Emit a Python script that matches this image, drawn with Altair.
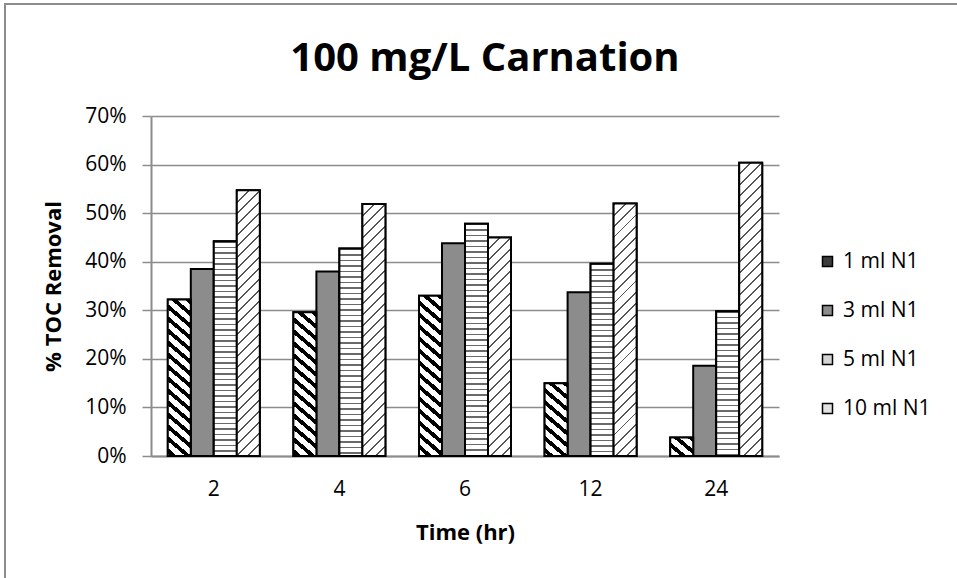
import altair as alt
import pandas as pd

# ---- data ----
times = ["2", "4", "6", "12", "24"]
series = ["1 ml N1", "3 ml N1", "5 ml N1", "10 ml N1"]
s1 = [0.322, 0.296, 0.330, 0.150, 0.038]
s2 = [0.385, 0.380, 0.438, 0.337, 0.186]
s3 = [0.442, 0.427, 0.478, 0.396, 0.298]
s4 = [0.547, 0.519, 0.450, 0.520, 0.604]
y_ticks = [0, 0.1, 0.2, 0.3, 0.4, 0.5, 0.6, 0.7]

rows = []
for name, vals in zip(series, [s1, s2, s3, s4]):
    for t, v in zip(times, vals):
        rows.append({"time": t, "series": name, "value": v})
df = pd.DataFrame(rows)

# ---- layout ----
W, H = 628, 340
PAD_L, PAD_T = 151, 116
P_INNER = 0.2675
YMAX = 0.7
BAR_W = W / len(times) * (1 - P_INNER) / len(series)

FONT = "Open Sans"
GRID = "#8c8c8c"


def stripes(value, k, period, on_frac, on_color, off_color, direction):
    """Linear gradient (bbox units) that paints parallel stripes on one bar."""
    w = BAR_W
    h = max(value / YMAX * H, 1.0)
    L = h + k * w
    n = L / period
    a = L / (k * k * w * w + h * h)
    if direction == "back":
        x1, y1, x2, y2 = 1.0, 0.0, 1.0 - a * k * w, a * h
    else:
        x1, y1, x2, y2 = 0.0, 0.0, a * k * w, a * h
    stops = []
    i = 0
    while i < n:
        t0 = round(i / n, 4)
        t1 = round(min((i + on_frac) / n, 1.0), 4)
        t2 = round(min((i + 1) / n, 1.0), 4)
        stops += [
            alt.GradientStop(offset=t0, color=on_color),
            alt.GradientStop(offset=t1, color=on_color),
            alt.GradientStop(offset=t1, color=off_color),
            alt.GradientStop(offset=t2, color=off_color),
        ]
        i += 1
    return alt.LinearGradient(
        gradient="linear", stops=stops,
        x1=round(x1, 5), y1=round(y1, 5), x2=round(x2, 5), y2=round(y2, 5),
    )


x_enc = alt.X(
    "time:N",
    sort=times,
    scale=alt.Scale(domain=times, paddingInner=P_INNER, paddingOuter=P_INNER / 2),
    axis=alt.Axis(
        title="Time (hr)", labelAngle=0, ticks=False, tickSize=0, grid=False,
        labelPadding=22, titlePadding=23, domainColor=GRID, domainWidth=2,
    ),
)
xo_enc = alt.XOffset(
    "series:N", sort=series,
    scale=alt.Scale(domain=series, paddingInner=0, paddingOuter=0),
)
y_enc = alt.Y(
    "value:Q",
    scale=alt.Scale(domain=[0, YMAX], nice=False),
    axis=alt.Axis(
        title="% TOC Removal", format=".0%", values=y_ticks,
        tickSize=9, tickColor=GRID, tickWidth=1.5, labelPadding=16,
        titlePadding=19, grid=True, gridColor=GRID, gridWidth=1.5,
        domainColor=GRID, domainWidth=2,
    ),
)

frame = alt.Chart(alt.Data(values=[{"k": 1}])).mark_rect(
    fill="transparent", stroke=GRID, strokeWidth=2
).encode(
    x=alt.value(5 - PAD_L), x2=alt.value(957 - PAD_L + 20),
    y=alt.value(4 - PAD_T), y2=alt.value(578 - PAD_T + 20),
)

base = alt.Chart(df).mark_bar(stroke="black", strokeWidth=2).encode(
    x=x_enc, xOffset=xo_enc, y=y_enc,
    fill=alt.Fill(
        "series:N",
        scale=alt.Scale(domain=series, range=["#3c3c3c", "#8c8c8c", "#d4d4d4", "#e2e2e2"]),
        legend=alt.Legend(
            title=None, orient="none", legendX=666, legendY=135, padding=0,
            symbolType="square", symbolSize=100, symbolStrokeColor="black",
            symbolStrokeWidth=1.5, labelFont=FONT, labelFontSize=21,
            labelColor="black", labelOffset=5, rowPadding=27,
        ),
    ),
)

styles = {
    "1 ml N1": dict(k=0.85, period=12, on_frac=0.42, on_color="#000000", off_color="#ffffff", direction="back"),
    "5 ml N1": dict(k=0.0, period=5.5, on_frac=0.3, on_color="#6a6a6a", off_color="#ffffff", direction="fwd"),
    "10 ml N1": dict(k=1.0, period=11, on_frac=0.18, on_color="#555555", off_color="#ffffff", direction="fwd"),
}

layers = [frame, base]
for name, vals in zip(series, [s1, s2, s3, s4]):
    if name not in styles:
        continue
    for t, v in zip(times, vals):
        grad = stripes(v, **styles[name])
        layers.append(
            alt.Chart(df)
            .transform_filter((alt.datum.time == t) & (alt.datum.series == name))
            .mark_bar(fill=grad, stroke="black", strokeWidth=2)
            .encode(x=x_enc, xOffset=xo_enc, y=y_enc)
        )

chart = (
    alt.layer(*layers)
    .properties(
        width=W, height=H,
        autosize=alt.AutoSizeParams(type="none"),
        padding={"left": PAD_L, "top": PAD_T, "right": 957 - PAD_L - W, "bottom": 578 - PAD_T - H},
        title=alt.TitleParams(
            "100 mg/L Carnation", font=FONT, fontSize=40, fontWeight="bold",
            color="black", anchor="middle", frame="group", dx=20, dy=108, offset=0,
            baseline="alphabetic",
        ),
        background="white",
    )
    .configure_axis(
        labelFont=FONT, labelFontSize=21, labelColor="black",
        titleFont=FONT, titleFontSize=22, titleFontWeight="bold", titleColor="black",
    )
    .configure_view(stroke="transparent")
)

chart.save("out.html", embed_options={"renderer": "svg", "actions": False})
